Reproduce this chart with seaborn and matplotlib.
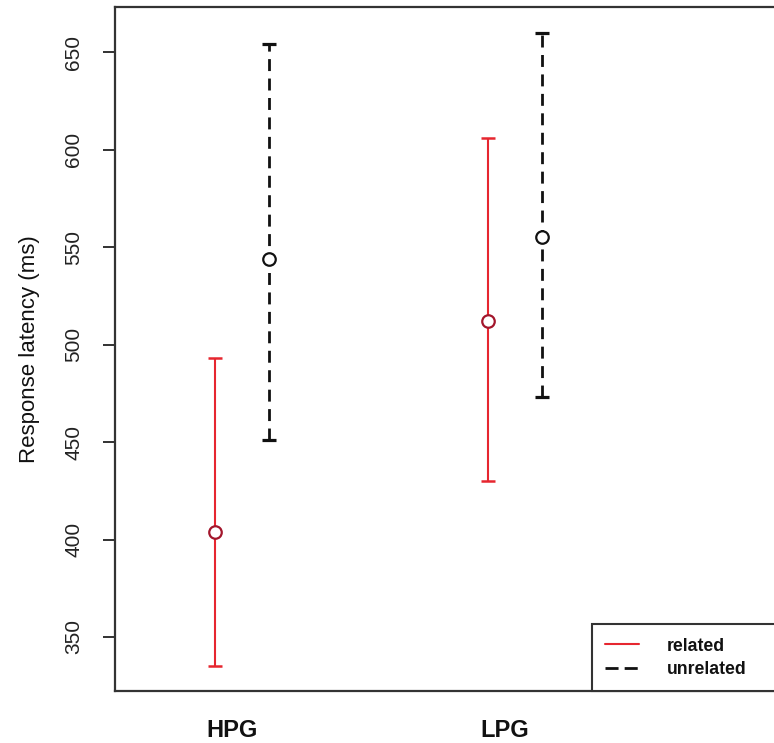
import numpy as np
import pandas as pd
import matplotlib
matplotlib.use("Agg")
import matplotlib.pyplot as plt
import matplotlib.transforms as mtransforms
from matplotlib.lines import Line2D
import seaborn as sns

# ---- data ----
groups = ["HPG", "LPG"]
conditions = ["related", "unrelated"]
related_mean = [404, 512]
related_low = [335, 430]
related_high = [493, 606]
unrelated_mean = [544, 555]
unrelated_low = [451, 473]
unrelated_high = [654, 660]
yticks = [350, 400, 450, 500, 550, 600, 650]

sns.set_theme(style="white")
plt.rcParams["font.family"] = ["Liberation Sans", "DejaVu Sans"]

df = pd.DataFrame({
    "group": groups * 2,
    "cond": ["related"] * 2 + ["unrelated"] * 2,
    "rt": related_mean + unrelated_mean,
})

red_line = "#e6262f"
red_mark = "#a3162c"
black = "#111111"

fig = plt.figure(figsize=(7.74, 7.43), dpi=100)
ax = fig.add_axes([115 / 774, 52 / 743, (777 - 115) / 774, (691 - 7) / 743])

sns.pointplot(data=df, x="group", y="rt", hue="cond", order=groups,
              hue_order=conditions, dodge=0.2, linestyle="none",
              markers="o", palette=[red_mark, black], errorbar=None,
              legend=False, ax=ax)

series = [
    (related_mean, related_low, related_high, red_line, 1.5, "-"),
    (unrelated_mean, unrelated_low, unrelated_high, black, 2.0, (0, (4.3, 2.7))),
]
for line, (m, lo, hi, col, lw, ls) in zip(ax.lines[:2], series):
    xs = np.asarray(line.get_xdata(), dtype=float)
    m = np.asarray(m, float)
    err = [m - np.asarray(lo, float), np.asarray(hi, float) - m]
    eb = ax.errorbar(xs, m, yerr=err, fmt="none", ecolor=col, elinewidth=lw,
                     capsize=4.7, capthick=lw + 0.3, zorder=2)
    eb.lines[2][0].set_linestyle(ls)
    line.set_zorder(4)
    line.set_markerfacecolor("white")
    line.set_markeredgecolor(line.get_color())
    line.set_markersize(9)
    line.set_markeredgewidth(1.6)

ax.set_xlim((115 - 242) / 273, (777 - 242) / 273)
ax.set_ylim(350 - 54 / 1.95, 650 + 45 / 1.95)
ax.set_yticks(yticks)
ax.set_yticklabels([str(v) for v in yticks], rotation=90, va="center", fontsize=15, color="#111111")
ax.tick_params(axis="y", length=9, width=1.3, pad=14, colors="#222222", left=True)
ax.tick_params(axis="x", length=0, pad=20)
for lab in ax.get_xticklabels():
    lab.set_fontsize(17)
    lab.set_fontweight("bold")
    lab.set_color("#111111")
    lab.set_transform(lab.get_transform() + mtransforms.ScaledTranslation(-10 / 100, 0, fig.dpi_scale_trans))
ax.set_xlabel("")
ax.set_ylabel("Response latency (ms)", fontsize=16, labelpad=17, color="#111111")

for s in ax.spines.values():
    s.set_color("#333333")
    s.set_linewidth(1.6)

handles = [Line2D([0], [0], color=red_line, lw=1.5),
           Line2D([0], [0], color=black, lw=2.0, linestyle=(0, (4.7, 2.2)))]
leg = ax.legend(handles, conditions, loc="lower left",
                bbox_to_anchor=(477 / 662, 0, 0.4, 0.1), mode="expand",
                borderaxespad=0, prop={"size": 12.7, "weight": "bold"},
                handlelength=1.9, handletextpad=1.6, labelspacing=0.35,
                borderpad=0.75, fancybox=False, framealpha=1,
                edgecolor="#333333")
leg.get_frame().set_linewidth(1.5)
for t in leg.get_texts():
    t.set_color("#111111")

fig.savefig("out.png", dpi=100)
